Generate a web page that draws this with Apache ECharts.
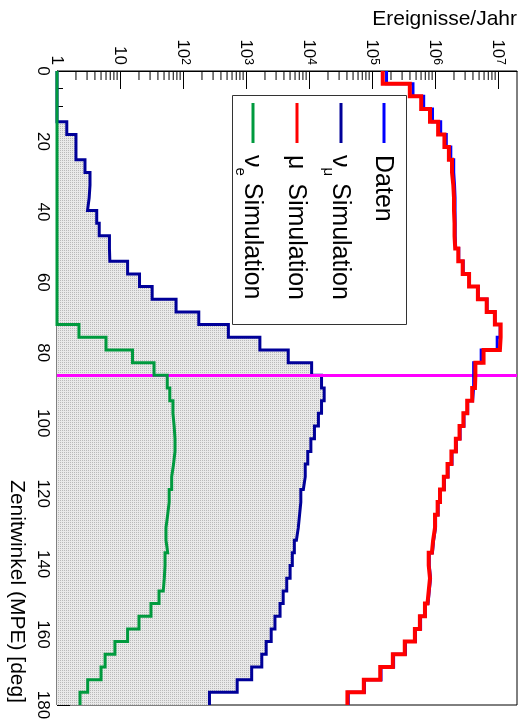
<!DOCTYPE html>
<html><head><meta charset="utf-8">
<script src="https://cdn.jsdelivr.net/npm/echarts@6/dist/echarts.min.js"></script>
<style>html,body{margin:0;padding:0;background:#fff}#c{width:528px;height:724px}</style>
</head><body><div id="c"></div>
<script>
// ---- data: 50 zenith bins of 3.6 deg from 0 to 180 ----
const binWidthDeg = 3.6;
const cutAngle = 86.4;
const zenithMin = 0, zenithMax = 180, zenithInterval = 20;
const countMin = 1, countMax = 2e7;

const daten = [1.70e5, 4.47e5, 6.61e5, 9.12e5, 1.23e6, 1.51e6, 1.78e6, 1.98e6, 2.04e6, 2.08e6,
  2.08e6, 2.09e6, 2.09e6, 2.13e6, 2.38e6, 2.80e6, 3.52e6, 4.85e6, 6.70e6, 8.95e6,
  1.08e7, 9.7e6, 5.4e6, 4.1e6, 4.1e6, 3.95e6, 3.30e6, 2.88e6, 2.50e6, 2.18e6,
  1.86e6, 1.61e6, 1.41e6, 1.22e6, 1.12e6, 1.02e6, 9.5e5, 9.1e5, 8.1e5, 8.5e5,
  8.1e5, 7.75e5, 7.05e5, 5.9e5, 4.9e5, 3.4e5, 2.2e5, 1.39e5, 7.6e4, 4.2e4];

const muSim = [1.48e5, 3.98e5, 6.03e5, 8.32e5, 1.12e6, 1.41e6, 1.66e6, 1.86e6, 1.95e6, 2.0e6,
  2.0e6, 2.04e6, 2.04e6, 2.09e6, 2.34e6, 2.75e6, 3.47e6, 4.79e6, 6.61e6, 8.91e6,
  1.10e7, 1.07e7, 5.89e6, 4.37e6, 4.30e6, 3.89e6, 3.24e6, 2.82e6, 2.45e6, 2.14e6,
  1.82e6, 1.58e6, 1.38e6, 1.20e6, 1.10e6, 1.0e6, 9.33e5, 8.91e5, 7.94e5, 8.32e5,
  7.94e5, 7.59e5, 6.92e5, 5.75e5, 4.79e5, 3.31e5, 2.14e5, 1.35e5, 7.41e4, 4.07e4];

const numuSim = [0, 0, 0, 0, 1.43, 2.0, 2.0, 2.78, 3.34, 3.24,
  3.05, 4.27, 4.68, 6.8, 6.9, 13.2, 20.4, 32.4, 77.6, 178,
  525, 1660, 4680, 11000, 15800, 17400, 15800, 14100, 12200, 10700,
  9550, 8710, 8130, 7410, 7080, 6760, 6310, 5850, 5430, 5010,
  4430, 3890, 3470, 2880, 2510, 2090, 1780, 1230, 724, 263];

const nueSim = [0, 0, 0, 0, 0, 0, 0, 0, 0, 0,
  0, 0, 0, 0, 0, 0, 0, 0, 0, 0,
  2.23, 6.0, 15.8, 34.7, 56.2, 61.7, 69.2, 72.4, 74.6, 74.6,
  70.8, 66.1, 66.1, 60.3, 57.1, 53.7, 53.7, 57.1, 51.8, 50.5,
  48.6, 41.6, 31.0, 20.0, 13.2, 8.3, 5.8, 5.0, 3.07, 2.32];

const countTickLabels = {0: '1', 1: '10', 2: '10{s|2}', 3: '10{s|3}', 4: '10{s|4}', 5: '10{s|5}', 6: '10{s|6}', 7: '10{s|7}'};
const legendEntries = [
  {text: '{m|Daten}', color: '#0000ff'},
  {text: '{m|ν}{s|μ}{m| Simulation}', color: '#000099'},
  {text: '{m|μ  Simulation}', color: '#ff0000'},
  {text: '{m|ν}{s|e}{m| Simulation}', color: '#009a3e'}
];
const FONT = '"Liberation Sans", Arial, Helvetica, sans-serif';

// minor tick positions of the log axis (2..9 x 10^k)
const minorTickVals = [];
for (let k = 0; k < 8; k++) for (let m = 2; m <= 9; m++) { const v = m * Math.pow(10, k); if (v < countMax) minorTickVals.push(v); }

function stepPoints(vals) {
  const pts = [];
  vals.forEach((v, i) => {
    const x = v > countMin ? v : countMin;
    pts.push([x, i * binWidthDeg], [x, (i + 1) * binWidthDeg]);
  });
  return pts;
}

// fill pattern
const pc = document.createElement('canvas');
pc.width = 2; pc.height = 2;
const pctx = pc.getContext('2d');
pctx.fillStyle = '#e9e9e9'; pctx.fillRect(0, 0, 2, 2);
pctx.fillStyle = '#b9b9b9'; pctx.fillRect(0, 0, 1, 1);

const chart = echarts.init(document.getElementById('c'), null, {renderer: 'canvas'});

function lineSeries(name, vals, color, width, z) {
  return {
    name, type: 'line', data: stepPoints(vals), showSymbol: false, symbol: 'none',
    lineStyle: {color, width, join: 'miter', cap: 'butt'}, clip: false, z, silent: true, animation: false
  };
}

const legendX = [384, 341, 297, 253];
const graphics = [
  {type: 'text', x: 517, y: 19, style: {text: 'Ereignisse/Jahr', font: '21px ' + FONT, fill: '#000', align: 'right', verticalAlign: 'middle'}, z: 100},
  {type: 'text', x: 17, y: 703, rotation: -Math.PI / 2, style: {text: 'Zenitwinkel (MPE) [deg]', font: '21px ' + FONT, fill: '#000', align: 'right', verticalAlign: 'middle'}, z: 100},
  {type: 'rect', shape: {x: 232.5, y: 95.5, width: 174, height: 229}, style: {fill: '#fff', stroke: '#333', lineWidth: 1}, z: 100}
];
legendEntries.forEach((e, i) => {
  const x = legendX[i];
  graphics.push({type: 'line', shape: {x1: x, y1: 103, x2: x, y2: 143}, style: {stroke: e.color, lineWidth: 3}, z: 101});
  graphics.push({type: 'text', x: x - 1, y: 155, rotation: -Math.PI / 2, z: 101,
    style: {text: e.text, align: 'left', verticalAlign: 'middle', fill: '#000',
      rich: {m: {fontSize: 25, fontFamily: FONT, lineHeight: 30, fill: '#000'},
             s: {fontSize: 15, fontFamily: FONT, verticalAlign: 'bottom', fill: '#000', padding: [0, 0, -4, 0]}}}});
});

const option = {
  animation: false,
  backgroundColor: '#fff',
  grid: {left: 57, right: 11, top: 71, bottom: 19, show: true, borderColor: '#000', borderWidth: 1, backgroundColor: 'transparent'},
  xAxis: {
    type: 'log', logBase: 10, min: countMin, max: countMax, position: 'top',
    axisLine: {show: true, lineStyle: {color: '#000', width: 1}},
    axisTick: {show: true, inside: true, length: 18, lineStyle: {color: '#000', width: 1}},
    splitLine: {show: false},
    axisLabel: {
      rotate: -90, margin: 6, color: '#000', fontSize: 17, fontFamily: FONT, showMaxLabel: false,
      formatter: v => { const k = Math.round(Math.log10(v)); return Math.abs(Math.log10(v) - k) < 1e-6 && countTickLabels[k] !== undefined ? countTickLabels[k] : ''; },
      rich: {s: {fontSize: 12, fontFamily: FONT, verticalAlign: 'top', color: '#000'}}
    }
  },
  yAxis: {
    type: 'value', min: zenithMin, max: zenithMax, interval: zenithInterval, inverse: true,
    axisLine: {show: true, lineStyle: {color: '#000', width: 1}},
    axisTick: {show: true, inside: true, length: 13, lineStyle: {color: '#000', width: 1}},
    minorTick: {show: true, splitNumber: 4, length: 6, lineStyle: {color: '#000', width: 1}},
    splitLine: {show: false},
    axisLabel: {rotate: -90, margin: 6, color: '#000', fontSize: 17, fontFamily: FONT}
  },
  graphic: graphics,
  series: [
    {
      type: 'custom', silent: true, z: 1, clip: true, animation: false,
      data: [[countMin, zenithMin]],
      renderItem: (params, api) => {
        const pts = [api.coord([countMin, zenithMin])];
        numuSim.forEach((v, i) => {
          const x = v > countMin ? v : countMin;
          pts.push(api.coord([x, i * binWidthDeg]), api.coord([x, (i + 1) * binWidthDeg]));
        });
        pts.push(api.coord([countMin, zenithMax]));
        return {type: 'polygon', shape: {points: pts}, style: {fill: {image: pc, repeat: 'repeat'}, stroke: null}};
      }
    },
    {
      type: 'custom', silent: true, z: 3, clip: false, animation: false,
      data: minorTickVals.map(v => [v, zenithMin]),
      renderItem: (params, api) => {
        const p = api.coord([api.value(0), api.value(1)]);
        return {type: 'line', shape: {x1: p[0], y1: p[1], x2: p[0], y2: p[1] + 9}, style: {stroke: '#000', lineWidth: 1}};
      }
    },
    lineSeries('νμ Simulation', numuSim, '#000099', 3, 4),
    lineSeries('νe Simulation', nueSim, '#009a3e', 3, 5),
    lineSeries('Daten', daten, '#0000ff', 3, 6),
    lineSeries('μ Simulation', muSim, '#ff0000', 4, 7),
    {
      type: 'line', data: [], z: 9, silent: true, animation: false,
      markLine: {symbol: 'none', silent: true, animation: false, label: {show: false},
        lineStyle: {color: '#ff00ff', width: 3, type: 'solid'},
        data: [{yAxis: cutAngle}]}
    }
  ]
};
chart.setOption(option);
</script></body></html>
